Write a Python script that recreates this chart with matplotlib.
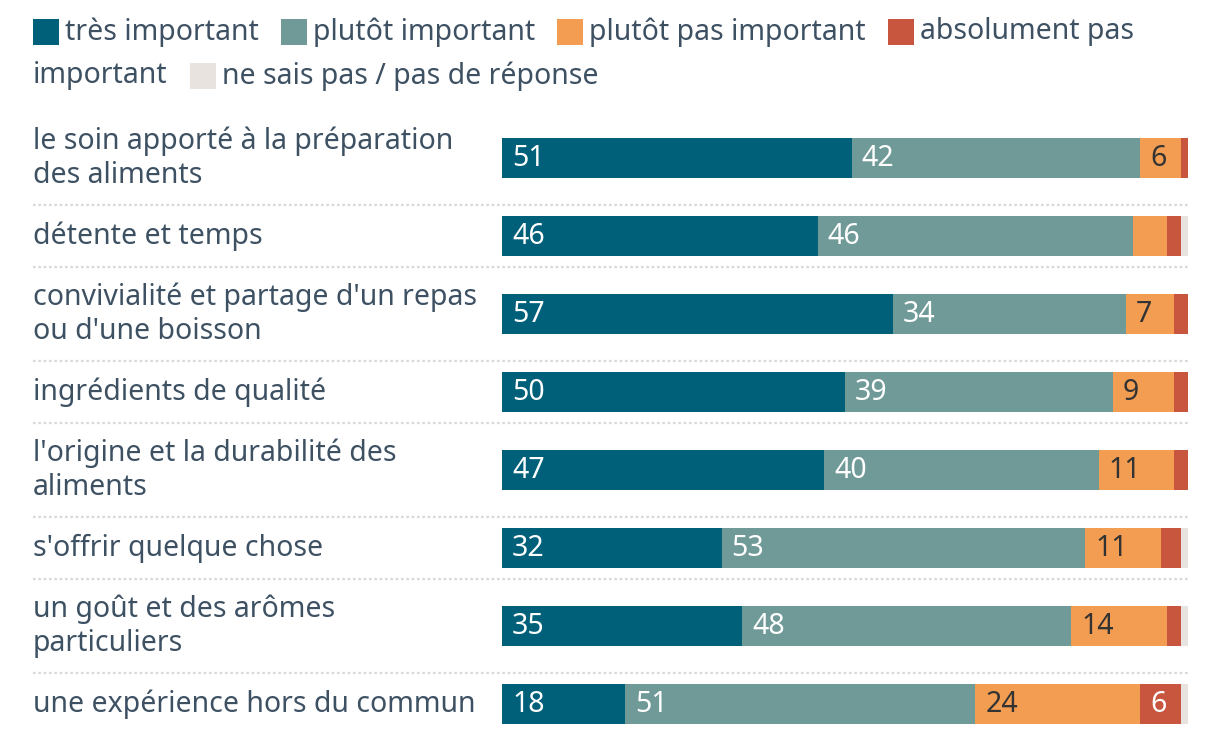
import matplotlib
matplotlib.use("Agg")
import matplotlib.pyplot as plt
from matplotlib.patches import Rectangle
from matplotlib.transforms import blended_transform_factory
import numpy as np

categories = [
    "le soin apporté à la préparation\ndes aliments",
    "détente et temps",
    "convivialité et partage d'un repas\nou d'une boisson",
    "ingrédients de qualité",
    "l'origine et la durabilité des\naliments",
    "s'offrir quelque chose",
    "un goût et des arômes\nparticuliers",
    "une expérience hors du commun",
]
series_names = ["très important", "plutôt important", "plutôt pas important",
                "absolument pas important", "ne sais pas / pas de réponse"]
tres_important = [51, 46, 57, 50, 47, 32, 35, 18]
plutot_important = [42, 46, 34, 39, 40, 53, 48, 51]
plutot_pas_important = [6, 5, 7, 9, 11, 11, 14, 24]
absolument_pas = [1, 2, 2, 2, 2, 3, 2, 6]
ne_sais_pas = [0, 1, 0, 0, 0, 1, 1, 1]

colors = ["#00607a", "#6f9a98", "#f29d52", "#c8553d", "#e8e3df"]
label_colors = ["white", "white", "#333333", "white", "#333333"]
text_color = "#3d5163"
FONT = ["Noto Sans", "DejaVu Sans"]
FS = 20.5

plt.rcParams["font.family"] = FONT

W, H = 1220, 734
fig = plt.figure(figsize=(W / 100, H / 100), dpi=100)

# axes in pixel layout
ax_left, ax_right, ax_top, ax_bottom = 502, 1188, 110, 734
ax = fig.add_axes([ax_left / W, 1 - ax_bottom / H, (ax_right - ax_left) / W, (ax_bottom - ax_top) / H])
row_px = 78.0
first_center = 158
ax.set_xlim(0, 100)
ax.set_ylim(7 + (ax_bottom - (first_center + 7 * row_px)) / row_px, -(first_center - ax_top) / row_px)
ax.axis("off")

data = [tres_important, plutot_important, plutot_pas_important, absolument_pas, ne_sais_pas]
y = np.arange(len(categories))
left = np.zeros(len(categories))
bar_h = 40 / row_px
for vals, col, lc in zip(data, colors, label_colors):
    vals = np.array(vals, dtype=float)
    ax.barh(y, vals, left=left, height=bar_h, color=col, edgecolor="none")
    for yi, (l, v) in enumerate(zip(left, vals)):
        if v >= 6:
            ax.text(l + 1.45, yi, f"{int(v)}", ha="left", va="center", color=lc,
                    fontsize=FS, family=FONT)
    left += vals

# category labels and separators
trans = blended_transform_factory(fig.transFigure, ax.transData)
for i, cat in enumerate(categories):
    fig.text(33 / W, i, cat, transform=trans, ha="left", va="center",
             fontsize=FS, color=text_color, linespacing=1.25)
    if i < len(categories) - 1:
        nlines = cat.count("\n") + 1
        off = (47 if nlines > 1 else 31) / row_px
        fig.add_artist(plt.Line2D([33 / W, ax_right / W], [i + off, i + off], transform=trans,
                                  color="#d9d9d9", lw=1.6, linestyle=(0, (1.2, 1.2))))

# legend with word-wrapping flow layout (pixel coordinates)
renderer = fig.canvas.get_renderer()
def px(x, yy):
    return x / W, 1 - yy / H

x = 33
line_y = [32, 76]
line = 0
max_x = 1190
psize = 26
for name, col in zip(series_names, colors):
    if x + psize > max_x:
        line += 1
        x = 33
    fig.add_artist(Rectangle(px(x, line_y[line] + psize / 2), psize / W, psize / H,
                             transform=fig.transFigure, color=col, lw=0))
    x += psize + 6
    words = name.split(" ")
    chunk = []
    for w in words:
        trial = " ".join(chunk + [w])
        t = fig.text(*px(x, line_y[line]), trial, fontsize=FS, va="center", ha="left")
        wpx = t.get_window_extent(renderer).width
        t.remove()
        if x + wpx > max_x and chunk:
            t = fig.text(*px(x, line_y[line]), " ".join(chunk), fontsize=FS, va="center",
                         ha="left", color=text_color)
            line += 1
            x = 33
            chunk = [w]
        else:
            chunk.append(w)
    t = fig.text(*px(x, line_y[line]), " ".join(chunk), fontsize=FS, va="center",
                 ha="left", color=text_color)
    x += t.get_window_extent(renderer).width + 22

fig.savefig("out.png", dpi=100, facecolor="white")
